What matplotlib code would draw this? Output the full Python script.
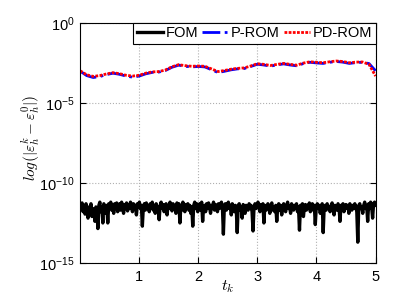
import numpy as np
from matplotlib import pyplot as plt
from matplotlib.ticker import FixedLocator, FixedFormatter

# log10 error exponents
fom_exp = [
    -11.35, -11.6, -11.25, -11.8, -11.4, -11.95, -11.3, -11.7, -12.2, -11.5,
    -11.9, -11.3, -12.1, -11.6, -11.8, -12.4, -11.5, -11.7, -12.85, -11.4,
    -11.2, -11.8, -11.5, -12.5, -11.3, -11.6, -11.9, -11.4, -12.5, -11.3,
    -11.6, -11.2, -11.7, -11.4, -11.9, -11.3, -11.6, -11.25, -11.8, -11.5,
    -11.3, -11.7, -11.2, -11.5, -11.9, -11.35, -11.6, -11.25, -11.75, -11.4,
    -11.6, -11.2, -11.5, -11.8, -11.3, -11.6, -11.4, -12.0, -11.3, -11.5,
    -11.2, -11.6, -11.4, -12.7, -11.5, -11.3, -11.7, -11.25, -11.6, -11.4,
    -11.8, -11.3, -11.5, -11.2, -11.7, -11.4, -11.9, -11.3, -11.6, -11.5,
    -12.3, -11.4, -11.2, -11.6, -11.35, -11.8, -11.5, -11.3, -12.0, -11.4,
    -11.6, -11.2, -11.5, -11.75, -11.3, -11.6, -11.4, -11.9, -11.25, -11.5,
    -11.3, -12.5, -11.4, -11.7, -11.2, -11.5, -11.8, -11.35, -11.6, -11.3,
    -11.7, -11.4, -11.9, -11.5, -12.7, -11.4, -11.2, -11.6, -11.3, -11.8,
    -11.5, -11.3, -11.7, -11.2, -12.4, -11.5, -11.4, -11.8, -11.3, -11.6,
    -11.25, -11.5, -11.9, -11.4, -11.6, -11.2, -11.7, -11.35, -11.5, -11.8,
    -11.3, -11.6, -11.4, -11.2, -11.5, -13.2, -11.4, -11.3, -11.7, -11.5,
    -11.2, -11.6, -11.4, -12.0, -11.3, -11.5, -11.8, -11.4, -11.6, -13.1,
    -11.4, -11.3, -11.7, -11.5, -12.2, -11.35, -11.6, -11.9, -11.4, -11.5,
    -11.7, -11.3, -11.6, -11.4, -11.8, -13.0, -11.5, -11.3, -11.6, -11.4,
    -11.2, -11.5, -11.8, -11.35, -11.6, -11.3, -12.5, -11.4, -11.7, -11.5,
    -11.3, -11.6, -11.9, -11.4, -11.25, -11.7, -11.5, -11.8, -11.4, -12.4,
    -11.5, -11.3, -11.7, -11.4, -12.0, -11.5, -11.3, -11.6, -11.8, -11.4,
    -11.2, -11.6, -11.45, -11.9, -11.3, -11.5, -11.7, -11.4, -11.6, -11.3,
    -11.8, -11.5, -12.95, -11.4, -11.6, -11.3, -12.1, -11.5, -11.35, -11.7,
    -11.4, -11.6, -11.25, -11.8, -11.5, -11.3, -11.7, -11.4, -12.6, -11.5,
    -11.3, -11.6, -11.4, -11.9, -11.5, -11.3, -13.1, -11.5, -11.4, -11.7,
    -11.3, -11.6, -11.5, -11.8, -11.4, -11.25, -11.6, -12.0, -11.4, -11.5,
    -11.7, -11.3, -11.5, -12.4, -11.4, -11.6, -11.3, -11.8, -11.5, -11.35,
    -11.6, -11.4, -11.9, -11.3, -11.5, -11.7, -11.4, -11.6, -11.3, -11.5,
    -11.8, -13.7, -11.4, -11.3, -11.6, -11.5, -11.9, -11.4, -11.2, -11.6,
    -11.4, -12.4, -11.3, -11.6, -11.2, -11.5, -12.2, -11.3, -11.2, -11.4,
]
prom_exp = [
    -3.02, -3.3, -3.42, -3.36, -3.24, -3.15, -3.22, -3.33, -3.4, -3.33,
    -3.19, -3.1, -3.08, -2.98, -2.78, -2.65, -2.72, -2.76, -2.73, -2.76,
    -2.93, -3.11, -3.03, -2.94, -2.88, -2.86, -2.73, -2.59, -2.64, -2.71,
    -2.63, -2.57, -2.64, -2.69, -2.55, -2.47, -2.51, -2.54, -2.47, -2.42,
    -2.46, -2.54, -2.49, -2.47, -2.55, -3.0,
]
pdrom_exp = [
    -3.0, -3.25, -3.35, -3.3, -3.2, -3.12, -3.18, -3.28, -3.33, -3.28,
    -3.15, -3.07, -3.05, -2.95, -2.75, -2.62, -2.68, -2.72, -2.7, -2.72,
    -2.88, -3.05, -2.98, -2.9, -2.85, -2.82, -2.7, -2.56, -2.6, -2.67,
    -2.6, -2.54, -2.6, -2.65, -2.52, -2.44, -2.47, -2.5, -2.44, -2.39,
    -2.42, -2.5, -2.46, -2.45, -2.6, -3.33,
]
t_start, t_end = 0.01, 5.0
xticks = [1, 2, 3, 4, 5]
yticks = [1e-15, 1e-10, 1e-5, 1e0]
ytick_labels = [r"$\mathregular{10^{-15}}$", r"$\mathregular{10^{-10}}$",
                r"$\mathregular{10^{-5}}$", r"$\mathregular{10^{0}}$"]


def main():
    plt.rcParams["font.family"] = ["Liberation Sans", "DejaVu Sans"]
    plt.rcParams["mathtext.fontset"] = "cm"

    t_fom = np.linspace(t_start, t_end, len(fom_exp))
    t_rom = np.linspace(t_start, t_end, len(prom_exp))

    fig = plt.figure(figsize=(4.15, 2.97), dpi=100)
    ax = fig.add_axes([0.193, 0.1145, 0.712, 0.809])

    ax.semilogy(t_fom, 10.0 ** np.array(fom_exp), color="black", lw=2.4, label="FOM")
    ax.semilogy(t_rom, 10.0 ** np.array(prom_exp), color="blue", lw=2,
                ls="-.", label="P-ROM")
    ax.semilogy(t_rom, 10.0 ** np.array(pdrom_exp), color="red", lw=2,
                ls=(0, (1, 0.5)), label="PD-ROM")

    ax.set_xlim(t_start, t_end)
    ax.set_ylim(1e-15, 1e0)
    ax.xaxis.set_major_locator(FixedLocator(xticks))
    ax.yaxis.set_major_locator(FixedLocator(yticks))
    ax.yaxis.set_major_formatter(FixedFormatter(ytick_labels))
    ax.yaxis.set_minor_locator(FixedLocator([]))
    ax.tick_params(direction="in", top=True, right=True, labelsize=10.5, length=4)
    ax.tick_params(axis="x", pad=5)
    ax.tick_params(axis="y", pad=4)
    ax.grid(True, ls=":", color="#b0b0b0", lw=0.8)

    ax.set_xlabel(r"$t_k$", fontsize=11.5)
    ax.xaxis.set_label_coords(0.5, -0.065)
    ax.set_ylabel(r"$log(|\varepsilon_h^k-\varepsilon_h^0|)$", fontsize=11)
    ax.yaxis.set_label_coords(-0.13, 0.52)

    leg = ax.legend(loc="upper right", ncol=3, fontsize=10.5, fancybox=False,
                    edgecolor="black", framealpha=1, borderaxespad=0,
                    handlelength=1.8, handletextpad=0.15, columnspacing=0.3,
                    borderpad=0.25)
    leg.get_frame().set_linewidth(0.8)

    fig.savefig("out.png", dpi=100)


if __name__ == "__main__":
    main()
